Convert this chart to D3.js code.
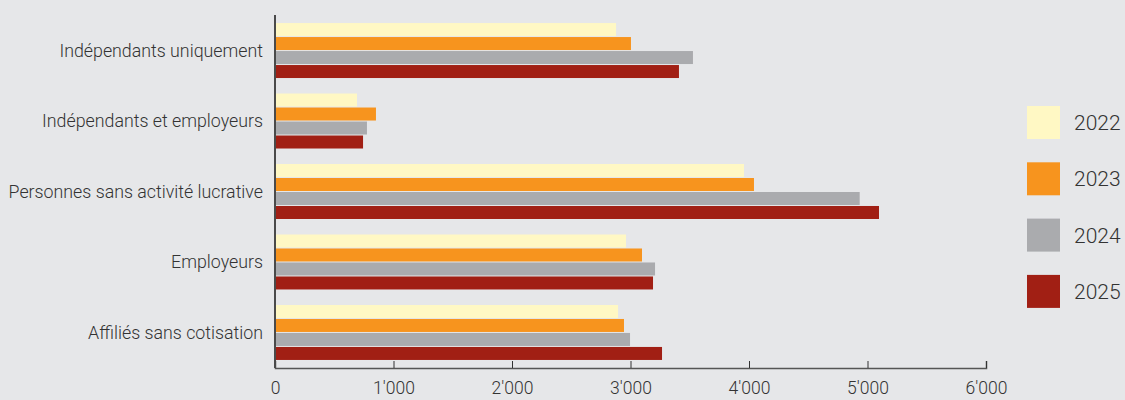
<!DOCTYPE html>
<html>
<head>
<meta charset="utf-8">
<script src="https://cdn.jsdelivr.net/npm/d3@7"></script>
<style>
  html, body { margin: 0; padding: 0; background: #e6e7e9; }
  svg { display: block; }
  text { font-family: Roboto, "Liberation Sans", Arial, sans-serif; font-weight: 300; fill: #333; }
</style>
</head>
<body>
<svg id="chart" width="1125" height="400"></svg>
<script>
// Categories, top to bottom
const categories = [
  "Indépendants uniquement",
  "Indépendants et employeurs",
  "Personnes sans activité lucrative",
  "Employeurs",
  "Affiliés sans cotisation"
];
const years = ["2022", "2023", "2024", "2025"];
const colors = ["#fff8c4", "#f7941e", "#aaabae", "#a11f14"];

// Values per year, in category order
const values2022 = [2878, 692, 3958, 2962, 2895];
const values2023 = [3004, 852, 4042, 3097, 2945];
const values2024 = [3527, 776, 4934, 3207, 2996];
const values2025 = [3409, 743, 5097, 3190, 3266];
const seriesValues = [values2022, values2023, values2024, values2025];

const tickValues = [0, 1000, 2000, 3000, 4000, 5000, 6000];
const tickLabels = ["0", "1'000", "2'000", "3'000", "4'000", "5'000", "6'000"];

const svg = d3.select("#chart");

const x = d3.scaleLinear().domain([0, 6000]).range([275, 986]);
const y = d3.scaleBand().domain(categories).range([16, 367]).paddingInner(0.22).paddingOuter(0.1);
const yInner = d3.scaleBand().domain(years).range([0, y.bandwidth()]).paddingInner(1 / 14);

// Bars
const groups = svg.append("g").selectAll("g")
  .data(categories)
  .join("g")
  .attr("transform", d => `translate(0,${y(d)})`);

groups.selectAll("rect")
  .data((c, i) => years.map((yr, j) => ({ year: yr, value: seriesValues[j][i], color: colors[j] })))
  .join("rect")
  .attr("x", x(0))
  .attr("y", d => yInner(d.year))
  .attr("width", d => x(d.value) - x(0))
  .attr("height", yInner.bandwidth())
  .attr("fill", d => d.color);

// Category labels
svg.append("g").selectAll("text")
  .data(categories)
  .join("text")
  .attr("x", 263)
  .attr("y", d => y(d) + y.bandwidth() / 2)
  .attr("dy", "0.35em")
  .attr("text-anchor", "end")
  .style("font-size", "17.8px")
  .text(d => d);

// Bottom axis with upward ticks
const xAxis = d3.axisBottom(x)
  .tickValues(tickValues)
  .tickFormat((d, i) => tickLabels[i])
  .tickSizeInner(-7)
  .tickSizeOuter(-7)
  .tickPadding(14);

const axisG = svg.append("g")
  .attr("transform", "translate(0,368)")
  .call(xAxis);
axisG.select(".domain").attr("stroke", "#555").attr("stroke-width", 1.5);
axisG.selectAll(".tick line").attr("stroke", "#333");
axisG.selectAll(".tick text")
  .style("font-size", "17.5px")
  .style("font-family", "Roboto, 'Liberation Sans', Arial, sans-serif")
  .attr("fill", "#333");

// Vertical axis line
svg.append("line")
  .attr("x1", x(0)).attr("x2", x(0))
  .attr("y1", 15).attr("y2", 368)
  .attr("stroke", "#4a4a4a")
  .attr("stroke-width", 2);

// Legend
const legend = svg.append("g").selectAll("g")
  .data(years)
  .join("g")
  .attr("transform", (d, i) => `translate(1027,${106 + i * 56.3})`);
legend.append("rect")
  .attr("width", 33).attr("height", 33)
  .attr("fill", (d, i) => colors[i]);
legend.append("text")
  .attr("x", 47).attr("y", 16.5)
  .attr("dy", "0.36em")
  .style("font-size", "21px")
  .text(d => d);
</script>
</body>
</html>
